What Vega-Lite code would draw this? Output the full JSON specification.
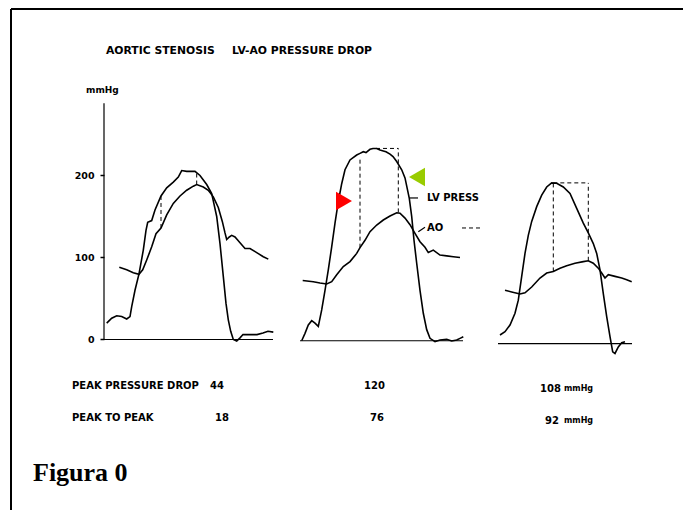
{
  "$schema": "https://vega.github.io/schema/vega-lite/v6.json",
  "width": 683,
  "height": 510,
  "autosize": "none",
  "padding": 0,
  "background": "white",
  "config": {"view": {"stroke": null}},
  "datasets": {
    "curves": [
      {"s":"LV1","t":106.7,"p":20},{"s":"LV1","t":111.7,"p":26},{"s":"LV1","t":116.7,"p":29},{"s":"LV1","t":121.7,"p":28},{"s":"LV1","t":126.7,"p":25},{"s":"LV1","t":130,"p":28},{"s":"LV1","t":131.7,"p":40},{"s":"LV1","t":135,"p":60},{"s":"LV1","t":139,"p":80},{"s":"LV1","t":143.3,"p":109},{"s":"LV1","t":146,"p":133},{"s":"LV1","t":147.7,"p":143},{"s":"LV1","t":151.7,"p":145},{"s":"LV1","t":155,"p":158},{"s":"LV1","t":161,"p":175},{"s":"LV1","t":166.7,"p":185},{"s":"LV1","t":173.3,"p":192},{"s":"LV1","t":178.3,"p":198},{"s":"LV1","t":181.7,"p":206},{"s":"LV1","t":186.7,"p":205},{"s":"LV1","t":191.7,"p":205},{"s":"LV1","t":195,"p":205},{"s":"LV1","t":200,"p":200},{"s":"LV1","t":206.7,"p":189},{"s":"LV1","t":211.7,"p":178},{"s":"LV1","t":214,"p":165},{"s":"LV1","t":216.7,"p":150},{"s":"LV1","t":220,"p":117},{"s":"LV1","t":223.3,"p":77},{"s":"LV1","t":226,"p":44},{"s":"LV1","t":228.3,"p":24},{"s":"LV1","t":230.7,"p":10},{"s":"LV1","t":233.3,"p":0},{"s":"LV1","t":236.7,"p":-2},{"s":"LV1","t":240,"p":2},{"s":"LV1","t":243,"p":6},{"s":"LV1","t":250,"p":6},{"s":"LV1","t":257,"p":6},{"s":"LV1","t":263,"p":8},{"s":"LV1","t":268,"p":10},{"s":"LV1","t":273.3,"p":9},
      {"s":"AO1","t":119.3,"p":88},{"s":"AO1","t":126.7,"p":85},{"s":"AO1","t":133.3,"p":81.5},{"s":"AO1","t":139,"p":79.5},{"s":"AO1","t":142.7,"p":85},{"s":"AO1","t":146.7,"p":97},{"s":"AO1","t":151.7,"p":113},{"s":"AO1","t":156,"p":129},{"s":"AO1","t":161,"p":136},{"s":"AO1","t":166.7,"p":152},{"s":"AO1","t":173.3,"p":166},{"s":"AO1","t":180,"p":175},{"s":"AO1","t":186.7,"p":182},{"s":"AO1","t":193.3,"p":187},{"s":"AO1","t":196.7,"p":189},{"s":"AO1","t":203.3,"p":186},{"s":"AO1","t":208.3,"p":182},{"s":"AO1","t":213.3,"p":174},{"s":"AO1","t":218.3,"p":161},{"s":"AO1","t":222.3,"p":144},{"s":"AO1","t":225,"p":130},{"s":"AO1","t":226.7,"p":122},{"s":"AO1","t":229.3,"p":125},{"s":"AO1","t":231.7,"p":127},{"s":"AO1","t":235,"p":125},{"s":"AO1","t":240,"p":118},{"s":"AO1","t":245,"p":111},{"s":"AO1","t":250,"p":111},{"s":"AO1","t":256.7,"p":106},{"s":"AO1","t":263.3,"p":101},{"s":"AO1","t":268.3,"p":98},
      {"s":"LV2","t":301.7,"p":-1.5},{"s":"LV2","t":305,"p":7.5},{"s":"LV2","t":308.3,"p":17.7},{"s":"LV2","t":311.7,"p":23},{"s":"LV2","t":315,"p":20},{"s":"LV2","t":318.3,"p":16},{"s":"LV2","t":321.7,"p":36},{"s":"LV2","t":325,"p":60},{"s":"LV2","t":328.3,"p":85},{"s":"LV2","t":331.7,"p":113},{"s":"LV2","t":335,"p":142},{"s":"LV2","t":338.3,"p":168},{"s":"LV2","t":341.7,"p":190},{"s":"LV2","t":345,"p":207},{"s":"LV2","t":350,"p":219},{"s":"LV2","t":356.7,"p":225},{"s":"LV2","t":360,"p":227},{"s":"LV2","t":363.3,"p":229},{"s":"LV2","t":366,"p":228},{"s":"LV2","t":370,"p":232},{"s":"LV2","t":373,"p":233},{"s":"LV2","t":376.7,"p":233},{"s":"LV2","t":380,"p":231},{"s":"LV2","t":383.3,"p":230},{"s":"LV2","t":386,"p":229},{"s":"LV2","t":390,"p":226},{"s":"LV2","t":393,"p":223},{"s":"LV2","t":396.7,"p":217},{"s":"LV2","t":401.7,"p":207},{"s":"LV2","t":405,"p":197},{"s":"LV2","t":409.3,"p":172},{"s":"LV2","t":411.7,"p":150},{"s":"LV2","t":414,"p":121},{"s":"LV2","t":416.7,"p":93},{"s":"LV2","t":420,"p":60},{"s":"LV2","t":423.3,"p":32},{"s":"LV2","t":426.7,"p":12},{"s":"LV2","t":430,"p":1.4},{"s":"LV2","t":435,"p":-2.7},{"s":"LV2","t":440,"p":-0.6},{"s":"LV2","t":446.7,"p":0.2},{"s":"LV2","t":451.7,"p":-1.8},{"s":"LV2","t":456.7,"p":-0.6},{"s":"LV2","t":460,"p":1.4},{"s":"LV2","t":463.3,"p":3.4},
      {"s":"AO2","t":302.7,"p":72},{"s":"AO2","t":313.3,"p":70.5},{"s":"AO2","t":320,"p":69},{"s":"AO2","t":326.7,"p":67.7},{"s":"AO2","t":331.7,"p":70.5},{"s":"AO2","t":336.7,"p":79},{"s":"AO2","t":343.3,"p":89},{"s":"AO2","t":350,"p":95},{"s":"AO2","t":356.7,"p":105},{"s":"AO2","t":360,"p":112},{"s":"AO2","t":365,"p":121},{"s":"AO2","t":370,"p":131.5},{"s":"AO2","t":376.7,"p":139.6},{"s":"AO2","t":383.3,"p":145.7},{"s":"AO2","t":390,"p":150.6},{"s":"AO2","t":396.7,"p":154.6},{"s":"AO2","t":400,"p":154},{"s":"AO2","t":405,"p":148},{"s":"AO2","t":410,"p":140},{"s":"AO2","t":415,"p":129.5},{"s":"AO2","t":420,"p":119.3},{"s":"AO2","t":425,"p":112.4},{"s":"AO2","t":428.3,"p":106},{"s":"AO2","t":433.3,"p":109},{"s":"AO2","t":440,"p":103},{"s":"AO2","t":446.7,"p":102},{"s":"AO2","t":453.3,"p":101},{"s":"AO2","t":460,"p":100},
      {"s":"LV3","t":500,"p":5.5},{"s":"LV3","t":505,"p":9.5},{"s":"LV3","t":510,"p":17.7},{"s":"LV3","t":515,"p":32},{"s":"LV3","t":518.3,"p":48},{"s":"LV3","t":521.7,"p":77},{"s":"LV3","t":525,"p":105},{"s":"LV3","t":528.3,"p":127},{"s":"LV3","t":531.7,"p":144},{"s":"LV3","t":536.7,"p":162},{"s":"LV3","t":541.7,"p":176},{"s":"LV3","t":546.7,"p":186},{"s":"LV3","t":551.7,"p":191},{"s":"LV3","t":556.7,"p":190.5},{"s":"LV3","t":563.3,"p":186},{"s":"LV3","t":570,"p":178},{"s":"LV3","t":576.7,"p":160},{"s":"LV3","t":583.3,"p":142},{"s":"LV3","t":588.3,"p":130},{"s":"LV3","t":593.3,"p":117},{"s":"LV3","t":596.7,"p":105},{"s":"LV3","t":600,"p":85},{"s":"LV3","t":603.3,"p":56},{"s":"LV3","t":606.7,"p":28},{"s":"LV3","t":610,"p":3.4},{"s":"LV3","t":612.7,"p":-15},{"s":"LV3","t":615,"p":-17},{"s":"LV3","t":618.3,"p":-9},{"s":"LV3","t":621.7,"p":-4},{"s":"LV3","t":625,"p":-2.7},
      {"s":"AO3","t":505,"p":60},{"s":"AO3","t":511.7,"p":58},{"s":"AO3","t":520,"p":55.5},{"s":"AO3","t":525,"p":57},{"s":"AO3","t":531.7,"p":64},{"s":"AO3","t":540,"p":75},{"s":"AO3","t":546.7,"p":81},{"s":"AO3","t":553.3,"p":83},{"s":"AO3","t":560,"p":87},{"s":"AO3","t":566.7,"p":90},{"s":"AO3","t":575,"p":93},{"s":"AO3","t":583.3,"p":95},{"s":"AO3","t":588.3,"p":96},{"s":"AO3","t":593.3,"p":93},{"s":"AO3","t":598.3,"p":87},{"s":"AO3","t":601.7,"p":81},{"s":"AO3","t":605,"p":75},{"s":"AO3","t":608.3,"p":79},{"s":"AO3","t":615,"p":77},{"s":"AO3","t":621.7,"p":75},{"s":"AO3","t":626.7,"p":73},{"s":"AO3","t":631.7,"p":70.5}
    ],
    "dashed": [
      {"t":161,"p":136,"t2":161,"p2":175},
      {"t":196.7,"p":189,"t2":196.7,"p2":203},
      {"t":360,"p":112,"t2":360,"p2":222},
      {"t":398.3,"p":155,"t2":398.3,"p2":233},
      {"t":376,"p":233,"t2":398.3,"p2":233},
      {"t":553.3,"p":83,"t2":553.3,"p2":191},
      {"t":553.3,"p":191,"t2":588.3,"p2":191},
      {"t":588.3,"p":96,"t2":588.3,"p2":191},
      {"t":462,"p":136,"t2":483,"p2":136}
    ],
    "solid": [
      {"t":104,"p":0,"t2":104,"p2":288},
      {"t":104,"p":0,"t2":273,"p2":0},
      {"t":300,"p":-1.5,"t2":463,"p2":-1.5},
      {"t":498,"p":-5,"t2":632,"p2":-5},
      {"t":410,"p":172.6,"t2":418,"p2":172.6},
      {"t":418.3,"p":131.5,"t2":425,"p2":136.8}
    ],
    "frame": [
      {"t":11,"p":403,"t2":683,"p2":403},
      {"t":11,"p":403,"t2":11,"p2":-208}
    ],
    "arrows": [
      {"t":344,"p":168.9,"dir":"right"},
      {"t":417,"p":198.2,"dir":"left"}
    ],
    "texts": [
      {"kind":"title","t":106,"p":352.2,"label":"AORTIC STENOSIS"},
      {"kind":"title","t":232,"p":352.2,"label":"LV-AO PRESSURE DROP"},
      {"kind":"lab","t":72,"p":-56.3,"label":"PEAK PRESSURE DROP"},
      {"kind":"lab","t":210,"p":-56.3,"label":"44"},
      {"kind":"lab","t":72,"p":-95.4,"label":"PEAK TO PEAK"},
      {"kind":"lab","t":215,"p":-95.4,"label":"18"},
      {"kind":"lab","t":364,"p":-56.3,"label":"120"},
      {"kind":"lab","t":370,"p":-95.4,"label":"76"},
      {"kind":"lab","t":540,"p":-60.4,"label":"108"},
      {"kind":"lab","t":545,"p":-99.4,"label":"92"},
      {"kind":"lab","t":427,"p":172.6,"label":"LV PRESS"},
      {"kind":"lab","t":427,"p":136,"label":"AO"},
      {"kind":"unit","t":564,"p":-60.4,"label":"mmHg"},
      {"kind":"unit","t":564,"p":-99.4,"label":"mmHg"},
      {"kind":"axisunit","t":86,"p":304.3,"label":"mmHg"},
      {"kind":"fig","t":33,"p":-172.6,"label":"Figura 0"}
    ]
  },
  "encoding": {
    "x": {"field":"t","type":"quantitative","scale":{"domain":[0,683],"nice":false,"zero":false},"axis":null},
    "y": {"field":"p","type":"quantitative","scale":{"domain":[-207.93,414.02],"nice":false,"zero":false},
      "axis":{"values":[0,100,200],"offset":-104,"domain":false,"grid":false,"title":null,"tickColor":"black","tickSize":4,"tickWidth":1.5,"labelFont":"DejaVu Sans","labelFontWeight":"bold","labelFontSize":9.5,"labelColor":"black","labelPadding":6}}
  },
  "layer": [
    {"data":{"name":"frame"},"mark":{"type":"rule","color":"black","strokeWidth":2},"encoding":{"x2":{"field":"t2"},"y2":{"field":"p2"}}},
    {"data":{"name":"solid"},"mark":{"type":"rule","color":"black","strokeWidth":1.2},"encoding":{"x2":{"field":"t2"},"y2":{"field":"p2"}}},
    {"data":{"name":"dashed"},"mark":{"type":"rule","color":"black","strokeWidth":1,"strokeDash":[4,3]},"encoding":{"x2":{"field":"t2"},"y2":{"field":"p2"}}},
    {"data":{"name":"curves"},"mark":{"type":"line","color":"black","strokeWidth":1.6},"encoding":{"detail":{"field":"s"}}},
    {"data":{"name":"arrows"},"mark":{"type":"point","filled":true,"opacity":1,"size":340},
      "encoding":{"shape":{"field":"dir","scale":{"domain":["right","left"],"range":["triangle-right","triangle-left"]},"legend":null},
        "color":{"field":"dir","scale":{"domain":["right","left"],"range":["#ff0000","#99cc00"]},"legend":null}}},
    {"data":{"name":"texts"},"transform":[{"filter":"datum.kind === 'title'"}],"mark":{"type":"text","align":"left","baseline":"middle","font":"DejaVu Sans","fontWeight":"bold","fontSize":10.8,"color":"black"},"encoding":{"text":{"field":"label"}}},
    {"data":{"name":"texts"},"transform":[{"filter":"datum.kind === 'lab'"}],"mark":{"type":"text","align":"left","baseline":"middle","font":"DejaVu Sans","fontWeight":"bold","fontSize":10,"color":"black"},"encoding":{"text":{"field":"label"}}},
    {"data":{"name":"texts"},"transform":[{"filter":"datum.kind === 'unit'"}],"mark":{"type":"text","align":"left","baseline":"middle","font":"DejaVu Sans","fontWeight":"bold","fontSize":8,"color":"black"},"encoding":{"text":{"field":"label"}}},
    {"data":{"name":"texts"},"transform":[{"filter":"datum.kind === 'axisunit'"}],"mark":{"type":"text","align":"left","baseline":"middle","font":"DejaVu Sans","fontWeight":"bold","fontSize":9,"color":"black"},"encoding":{"text":{"field":"label"}}},
    {"data":{"name":"texts"},"transform":[{"filter":"datum.kind === 'fig'"}],"mark":{"type":"text","align":"left","baseline":"alphabetic","font":"Liberation Serif","fontWeight":"bold","fontSize":26,"color":"black"},"encoding":{"text":{"field":"label"}}}
  ]
}
